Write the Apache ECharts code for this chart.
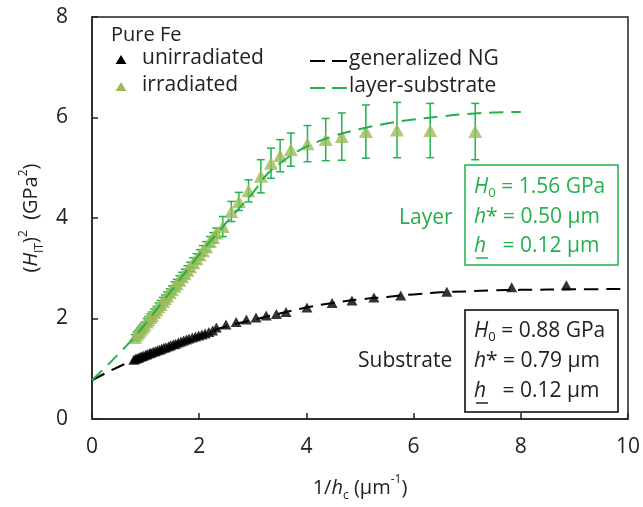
<!DOCTYPE html>
<html>
<head>
<meta charset="utf-8">
<script src="https://cdn.jsdelivr.net/npm/echarts@6/dist/echarts.min.js"></script>
<style>
	html, body { margin: 0; padding: 0; background: #fff; }
	#chart { width: 643px; height: 507px; }
</style>
</head>
<body>
<div id="chart"></div>
<script>
// 未照射 (unirradiated) data points
var unirrX = [0.78, 0.81, 0.84, 0.87, 0.90, 0.93, 0.96, 1.00, 1.03, 1.07, 1.10, 1.14, 1.18, 1.22, 1.26, 1.30, 1.34, 1.38, 1.43, 1.47, 1.52, 1.56, 1.61, 1.66, 1.71, 1.76, 1.81, 1.87, 1.93, 1.99, 2.05, 2.11, 2.18, 2.25,
	2.32, 2.50, 2.69, 2.88, 3.06, 3.25, 3.44, 3.62, 4.01, 4.48, 4.85, 5.26, 5.76, 6.62, 7.83, 8.85];
var unirrY = [1.18, 1.20, 1.21, 1.22, 1.24, 1.25, 1.26, 1.28, 1.29, 1.31, 1.32, 1.34, 1.35, 1.37, 1.38, 1.40, 1.42, 1.43, 1.45, 1.47, 1.49, 1.50, 1.52, 1.54, 1.56, 1.58, 1.60, 1.62, 1.64, 1.66, 1.68, 1.70, 1.73, 1.76,
	1.82, 1.88, 1.93, 1.98, 2.02, 2.06, 2.09, 2.13, 2.22, 2.31, 2.36, 2.42, 2.46, 2.53, 2.62, 2.66];

// 照射後 (irradiated) data points + error
var irrX = [0.80, 0.83, 0.86, 0.89, 0.92, 0.95, 0.98, 1.02, 1.05, 1.09, 1.12, 1.16, 1.20, 1.24, 1.28, 1.32, 1.36, 1.40, 1.45, 1.49, 1.54, 1.58, 1.63, 1.68, 1.73, 1.78, 1.83, 1.89, 1.95, 2.01, 2.07, 2.13, 2.20, 2.26,
	2.32, 2.44, 2.60, 2.74, 2.92, 3.15, 3.34, 3.51, 3.71, 4.02, 4.36, 4.66, 5.11, 5.69, 6.31, 7.15];
var irrY = [1.62, 1.67, 1.71, 1.75, 1.79, 1.83, 1.87, 1.93, 1.97, 2.02, 2.06, 2.12, 2.17, 2.23, 2.28, 2.34, 2.39, 2.45, 2.51, 2.57, 2.64, 2.69, 2.76, 2.83, 2.89, 2.96, 3.03, 3.11, 3.19, 3.27, 3.35, 3.43, 3.53, 3.61,
	3.70, 3.83, 4.13, 4.33, 4.54, 4.83, 5.09, 5.24, 5.36, 5.48, 5.56, 5.62, 5.72, 5.75, 5.74, 5.72];
var irrErr = [0.06, 0.06, 0.06, 0.06, 0.06, 0.06, 0.06, 0.07, 0.07, 0.07, 0.07, 0.07, 0.07, 0.08, 0.08, 0.08, 0.08, 0.08, 0.08, 0.08, 0.09, 0.09, 0.09, 0.09, 0.09, 0.09, 0.09, 0.10, 0.10, 0.10, 0.10, 0.10, 0.10, 0.10,
	0.10, 0.20, 0.20, 0.18, 0.22, 0.33, 0.30, 0.32, 0.33, 0.36, 0.42, 0.47, 0.53, 0.55, 0.54, 0.56];

// 擬合曲線
var ngX = [0, 0.25, 0.5, 0.78, 1.0, 1.5, 2.0, 2.5, 3.0, 3.5, 4.0, 4.5, 5.0, 5.5, 6.0, 6.5, 7.0, 7.5, 8.0, 9.0, 10.0];
var ngY = [0.77, 0.91, 1.04, 1.18, 1.28, 1.48, 1.67, 1.84, 1.97, 2.10, 2.22, 2.31, 2.38, 2.43, 2.48, 2.52, 2.54, 2.56, 2.57, 2.58, 2.59];
var lsX = [0, 0.25, 0.5, 0.8, 1.0, 1.5, 2.0, 2.5, 3.0, 3.25, 3.5, 3.75, 4.0, 4.5, 5.0, 5.5, 6.0, 6.5, 7.0, 7.5, 8.0];
var lsY = [0.77, 1.03, 1.30, 1.64, 1.90, 2.58, 3.27, 3.90, 4.50, 4.85, 5.08, 5.27, 5.42, 5.63, 5.77, 5.88, 5.96, 6.02, 6.07, 6.10, 6.11];

var xTicks = { min: 0, max: 10, interval: 2 };
var yTicks = { min: 0, max: 8, interval: 2 };

var GREEN = "#22b14c";
var OLIVE = "#9bbb59";
var FONT = "Open Sans";

function zip(xs, ys) {
	return xs.map(function (x, i) {
		return [x, ys[i]];
	});
}

var irrErrData = irrX.map(function (x, i) {
	return [x, irrY[i] - irrErr[i], irrY[i] + irrErr[i]];
});

var richBase = {
	p: { fontFamily: FONT, fontSize: 20, color: "#222", lineHeight: 28 },
	i: { fontFamily: FONT, fontSize: 20, color: "#222", fontStyle: "italic", lineHeight: 28 },
	sub: { fontFamily: FONT, fontSize: 12, color: "#222", verticalAlign: "bottom", lineHeight: 28 },
	sup: { fontFamily: FONT, fontSize: 12, color: "#222", verticalAlign: "top", lineHeight: 28 }
};

// 文字 (middle-aligned at y)
function label(x, y, text, color, size) {
	return {
		type: "text",
		x: x,
		y: y,
		z: 51,
		style: { text: text, font: size + "px " + FONT, fill: color, verticalAlign: "middle" }
	};
}

function boxText(x, ys, color, rows) {
	var rich = {
		p: { fontFamily: FONT, fontSize: 21, fill: color, lineHeight: 26 },
		i: { fontFamily: FONT, fontSize: 21, fill: color, fontStyle: "italic", lineHeight: 26 },
		sub: { fontFamily: FONT, fontSize: 13, fill: color, verticalAlign: "bottom", lineHeight: 26 }
	};
	return rows.map(function (r, k) {
		return {
			type: "text",
			x: x,
			y: ys[k],
			z: 51,
			style: { text: r, rich: rich, fill: color, verticalAlign: "middle" }
		};
	});
}

var myChart = echarts.init(document.getElementById("chart"), null, { renderer: "canvas" });

var graphics = [
	// legend
	label(111, 35, "Pure Fe", "#222", 20),
	{ type: "polygon", shape: { points: [[121, 55], [115.5, 64], [126.5, 64]] }, style: { fill: "#000" } },
	label(142, 58, "unirradiated", "#222", 21),
	{ type: "polygon", shape: { points: [[121, 82], [115.5, 91], [126.5, 91]] }, style: { fill: OLIVE } },
	label(142, 85, "irradiated", "#222", 21),
	{ type: "line", shape: { x1: 310, y1: 61, x2: 325, y2: 61 }, style: { stroke: "#000", lineWidth: 2 } },
	{ type: "line", shape: { x1: 332, y1: 61, x2: 347, y2: 61 }, style: { stroke: "#000", lineWidth: 2 } },
	label(349, 59, "generalized NG", "#222", 21),
	{ type: "line", shape: { x1: 310, y1: 88, x2: 325, y2: 88 }, style: { stroke: GREEN, lineWidth: 2 } },
	{ type: "line", shape: { x1: 332, y1: 88, x2: 347, y2: 88 }, style: { stroke: GREEN, lineWidth: 2 } },
	label(349, 86, "layer-substrate", "#222", 21),
	// layer box
	{ type: "rect", shape: { x: 465, y: 165, width: 153, height: 100 }, style: { fill: "#fff", stroke: GREEN, lineWidth: 1.5 }, z: 50 },
	label(399, 218, "Layer", GREEN, 21),
	// substrate box
	{ type: "rect", shape: { x: 465, y: 310, width: 153, height: 102 }, style: { fill: "#fff", stroke: "#000", lineWidth: 1.5 }, z: 50 },
	label(358, 361, "Substrate", "#222", 21),
	{ type: "line", shape: { x1: 476, y1: 258, x2: 488, y2: 258 }, style: { stroke: GREEN, lineWidth: 1.5 }, z: 51 },
	{ type: "line", shape: { x1: 476, y1: 403, x2: 488, y2: 403 }, style: { stroke: "#222", lineWidth: 1.5 }, z: 51 }
];
boxText(474, [187, 217, 246], GREEN, ["{i|H}{sub|0}{p| = 1.56 GPa}", "{i|h}{p|* = 0.50 µm}", "{i|h}{p|   = 0.12 µm}"]).forEach(function (g) {
	graphics.push(g);
});
boxText(474, [331, 361, 391], "#222", ["{i|H}{sub|0}{p| = 0.88 GPa}", "{i|h}{p|* = 0.79 µm}", "{i|h}{p|   = 0.12 µm}"]).forEach(function (g) {
	graphics.push(g);
});

var option = {
	animation: false,
	grid: {
		left: 92,
		top: 17,
		right: 13,
		bottom: 87,
		show: true,
		borderColor: "#222",
		borderWidth: 1.5
	},
	xAxis: {
		type: "value",
		min: xTicks.min,
		max: xTicks.max,
		interval: xTicks.interval,
		axisLine: { onZero: false, lineStyle: { color: "#222", width: 1.5 } },
		axisTick: { inside: true, length: 6, lineStyle: { color: "#222", width: 1.5 } },
		axisLabel: { margin: 18, fontFamily: FONT, fontSize: 21, color: "#222" },
		splitLine: { show: false },
		name: "{p|1/}{i|h}{sub|c}{p| (µm}{sup|-1}{p|)}",
		nameLocation: "middle",
		nameGap: 55,
		nameTextStyle: { rich: richBase }
	},
	yAxis: {
		type: "value",
		min: yTicks.min,
		max: yTicks.max,
		interval: yTicks.interval,
		axisLine: { onZero: false, lineStyle: { color: "#222", width: 1.5 } },
		axisTick: { inside: true, length: 6, lineStyle: { color: "#222", width: 1.5 } },
		axisLabel: { margin: 24, fontFamily: FONT, fontSize: 21, color: "#222" },
		splitLine: { show: false },
		name: "{p|(}{i|H}{sub|IT}{p|)}{sup|2}{p|  (GPa}{sup|2}{p|)}",
		nameLocation: "middle",
		nameRotate: 90,
		nameGap: 46,
		nameTextStyle: { rich: richBase }
	},
	graphic: graphics,
	series: [
		{
			type: "scatter",
			data: zip(unirrX, unirrY),
			symbol: "triangle",
			symbolSize: [11, 10],
			itemStyle: { color: "#000" },
			z: 3
		},
		{
			type: "custom",
			data: irrErrData,
			renderItem: function (params, api) {
				var x = api.value(0);
				var lo = api.coord([x, api.value(1)]);
				var hi = api.coord([x, api.value(2)]);
				var w = 4;
				var st = { stroke: GREEN, lineWidth: 1.5 };
				return {
					type: "group",
					children: [
						{ type: "line", shape: { x1: lo[0], y1: lo[1], x2: hi[0], y2: hi[1] }, style: st },
						{ type: "line", shape: { x1: lo[0] - w, y1: lo[1], x2: lo[0] + w, y2: lo[1] }, style: st },
						{ type: "line", shape: { x1: hi[0] - w, y1: hi[1], x2: hi[0] + w, y2: hi[1] }, style: st }
					]
				};
			},
			z: 2
		},
		{
			type: "scatter",
			data: zip(irrX, irrY),
			symbol: "triangle",
			symbolSize: [14, 13],
			itemStyle: { color: OLIVE },
			z: 4
		},
		{
			type: "line",
			data: zip(ngX, ngY),
			smooth: 0.4,
			showSymbol: false,
			lineStyle: { color: "#000", width: 2, type: [14, 8] },
			z: 6
		},
		{
			type: "line",
			data: zip(lsX, lsY),
			smooth: 0.4,
			showSymbol: false,
			lineStyle: { color: GREEN, width: 2, type: [14, 8] },
			z: 6
		}
	]
};
myChart.setOption(option);
window.addEventListener("resize", myChart.resize);
</script>
</body>
</html>
